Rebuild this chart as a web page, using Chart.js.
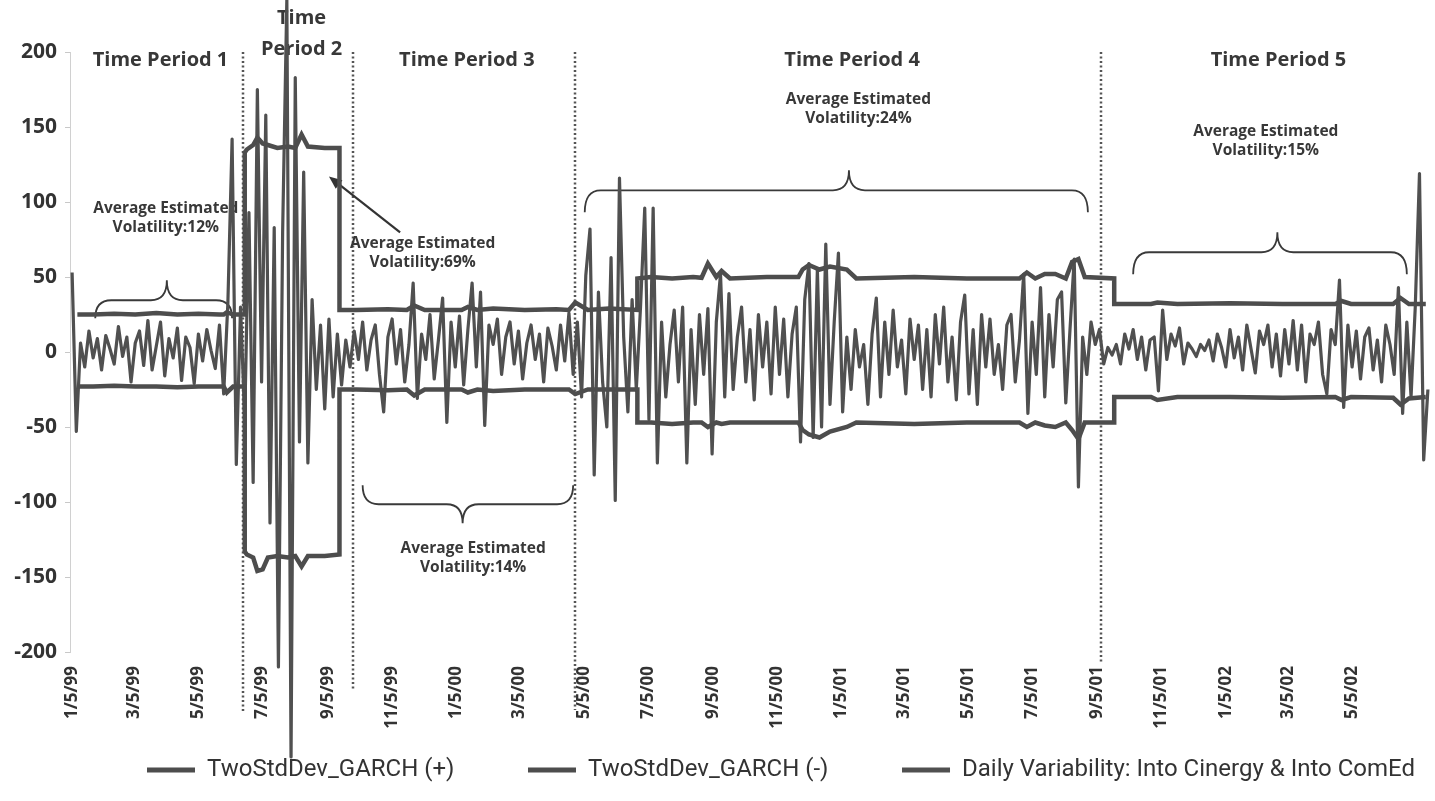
<!DOCTYPE html>
<html lang="en">
<head>
<meta charset="UTF-8">
<title>Daily variability and GARCH bands</title>
<script src="https://cdn.jsdelivr.net/npm/chart.js"></script>
<style>
    body {
        margin: 0;
        background: #fff;
    }
    .chart-box {
        position: relative;
        width: 1435px;
        height: 801px;
    }
</style>
</head>
<body>
<div class="chart-box"><canvas id="volChart"></canvas></div>
<script>
    // x is counted in days from 1/5/99
    const tickDays = [0, 59, 120, 181, 243, 304, 365, 425, 486, 547, 609, 670, 731, 790, 851, 912, 974, 1035, 1096, 1155, 1216];
    const tickLabels = ['1/5/99', '3/5/99', '5/5/99', '7/5/99', '9/5/99', '11/5/99', '1/5/00', '3/5/00', '5/5/00', '7/5/00',
        '9/5/00', '11/5/00', '1/5/01', '3/5/01', '5/5/01', '7/5/01', '9/5/01', '11/5/01', '1/5/02', '3/5/02', '5/5/02'];

    // daily variability, one reading every 4 days
    const dailyStep = 4;
    const dailyValues = [
        // period 1
        53, -53, 6, -10, 14, -4, 9, -12, 11, 2,
        -8, 17, -3, 10, -20, 6, 14, -9, 21, -12,
        4, 20, -16, 9, -4, 16, -19, 10, 3, -21,
        12, -6, 15, 1, -11, 18, -28, 33, 142, -75,
        // period 2
        30, -45, 93, -87, 175, -20, 158, -114, 83, -210,
        80, 235, -270, 183, -60, 120, -74, 35, -25, 18,
        -38, 22, -30, 12, -22, 8,
        // period 3
        -10, 14, -5, 20, -12, 8, 18, -15, -40, 10,
        22, -8, 15, -20, 5, 46, -31, 12, -5, 25,
        -18, 8, 36, -47, 20, -10, 24, -22, 15, 46,
        -10, 40, -49, 18, 5, 22, -15, 10, 20, -8,
        14, -18, 6, 18, -5, 12, -20, 16, 4, -12,
        18, -6, 26, -15,
        // period 4
        20, -30, 51, 82, -82, 40, -20, -50, 63, -99,
        116, 10, -40, 35, -25, 30, 96, -45, 96, -74,
        20, -30, 5, 28, -20, 30, -74, 15, -35, 25,
        -15, 29, -68, 20, 52, -30, 39, -25, 10, 30,
        -20, 15, -32, 25, -10, 20, -28, 30, -15, 22,
        -30, 12, 30, -60, 35, 59, -57, 55, -50, 72,
        -35, 20, 66, -40, 10, -25, 15, -10, 5, -35,
        12, 36, -30, 20, -15, 28, -10, 8, -28, 22,
        -5, 18, -25, 15, -30, 25, -8, 30, -20, 10,
        -32, 20, 38, -28, 15, -35, 25, -10, 22, -15,
        5, -25, 18, 25, -20, 8, 52, -41, 20, -15,
        43, -30, 25, -10, 35, 40, -34, 15, 62, -90,
        10, -15, 20, 5, 15, -8, 3, -2,
        // period 5
        5, -8, 12, 2, 15, -5, 10, -12, 8, 10,
        -26, 28, -5, 12, 4, 16, -8, 6, 2, -3,
        5, 1, 8, -6, 12, 3, -10, 15, -4, 10,
        -12, 18, 2, -14, 14, 5, 18, -10, 12, -16,
        15, -8, 21, -12, 18, -20, 12, 5, 20, -15,
        -28, 15, 5, 48, -37, 18, -10, 14, -18, 10,
        16, -12, 8, -20, 18, 5, -15, 43, -41, 20,
        -30, 30, 119, -72, -25
    ];

    // two standard deviation GARCH bands
    const garchDays = [5, 20, 40, 60, 80, 100, 120, 140, 144, 147,
        153, 164, 164, 166, 172, 176, 181, 186, 195, 205,
        212, 218, 224, 240, 254, 254, 270, 300, 318, 325,
        335, 370, 376, 385, 400, 430, 460, 472, 478, 490,
        510, 537, 537, 550, 570, 590, 598, 604, 612, 617,
        625, 660, 690, 694, 700, 710, 720, 736, 745, 800,
        850, 900, 907, 915, 924, 934, 944, 950, 956, 962,
        990, 990, 1010, 1025, 1031, 1050, 1100, 1150, 1200, 1206,
        1215, 1255, 1262, 1270, 1286];
    const garchPlus = [25, 25, 25.5, 25, 26, 25, 25.5, 25, 25, 26.5,
        25, 25, 133, 135, 138, 143, 139, 138, 136, 137,
        136, 145, 137, 136, 136, 28, 28, 28.5, 28, 31,
        28, 28, 30, 28, 29, 28, 28.5, 28, 33, 28,
        29, 28, 49, 50, 49, 50, 49.5, 59, 50, 54,
        49, 50, 50, 55, 58, 55, 57, 55, 49, 50,
        49, 49, 53, 49, 52, 52, 49, 60, 62, 50,
        49, 32, 32, 32, 33, 32, 32.5, 32, 32, 34,
        32, 32, 36, 32, 32];
    const garchMinus = [-23, -23, -22.5, -23, -23, -23.5, -23, -23, -23, -27,
        -23, -23, -133, -135, -137, -146, -145, -137, -136, -137,
        -136, -143, -136, -136, -135, -25, -25, -25.5, -25, -29,
        -25, -25, -27, -25, -26, -25, -25, -25, -28, -25,
        -25, -25, -47, -47, -48, -47, -47, -50, -47, -48,
        -47, -47, -47, -52, -55, -57, -53, -50, -47, -48,
        -47, -47, -50, -47, -49, -50, -47, -52, -58, -47,
        -47, -30, -30, -30, -32, -30, -30, -30.5, -30, -32,
        -30, -30.5, -35, -31, -30];

    const seriesNames = ['TwoStdDev_GARCH (+)', 'TwoStdDev_GARCH (-)', 'Daily Variability: Into Cinergy & Into ComEd'];

    // notes written on the chart
    const periodEdges = [162, 267, 478, 977];
    const periodTitles = [['Time Period 1'], ['Time', 'Period 2'], ['Time Period 3'], ['Time Period 4'], ['Time Period 5']];
    const volatilityNotes = [
        ['Average Estimated', 'Volatility:12%'],
        ['Average Estimated', 'Volatility:69%'],
        ['Average Estimated', 'Volatility:14%'],
        ['Average Estimated', 'Volatility:24%'],
        ['Average Estimated', 'Volatility:15%']
    ];

    // where the notes sit, in axis units [day, value]
    const edgeDrop = [60, 38, 58, 12];
    const titleSpots = [[84, 194.5], [218, 222.8], [375, 194.5], [741, 194.5], [1146, 194.5]];
    const noteSpots = [[89, 95.5], [333, 72], [381, -131.2], [747, 168], [1134, 146.8]];
    const braceSpots = [
        {from: 22, to: 152, mid: 90, base: 34.5, tip: 47.8, end: 22.5},
        {from: 276, to: 476, mid: 371, base: -101.5, tip: -114.2, end: -88.9},
        {from: 487, to: 965, mid: 738, base: 107.8, tip: 121.1, end: 93.1},
        {from: 1008, to: 1268, mid: 1145, base: 66.5, tip: 79.8, end: 51.8}
    ];
    const arrowSpot = {from: [311.6, 79.8], to: [244, 117]};

    const ink = '#383838';
    const lineGray = '#4d4d4d';

    function drawBrace(ctx, x0, x1, xm, yBase, yTip, yEnd) {
        const r = 16;
        ctx.beginPath();
        ctx.moveTo(x0, yEnd);
        ctx.quadraticCurveTo(x0, yBase, x0 + r, yBase);
        ctx.lineTo(xm - r, yBase);
        ctx.quadraticCurveTo(xm, yBase, xm, yTip);
        ctx.quadraticCurveTo(xm, yBase, xm + r, yBase);
        ctx.lineTo(x1 - r, yBase);
        ctx.quadraticCurveTo(x1, yBase, x1, yEnd);
        ctx.stroke();
    }

    function drawLines(ctx, lines, cx, cy, gap) {
        lines.forEach((t, i) => ctx.fillText(t, cx, cy + i * gap));
    }

    const annotate = {
        id: 'annotate',
        beforeDatasetsDraw(chart) {
            const {ctx, chartArea, scales: {x, y}} = chart;
            ctx.save();

            // dotted period separators
            ctx.strokeStyle = '#555';
            ctx.lineWidth = 2.5;
            ctx.setLineDash([2, 2.5]);
            periodEdges.forEach((d, i) => {
                const px = Math.round(x.getPixelForValue(d));
                ctx.beginPath();
                ctx.moveTo(px, chartArea.top);
                ctx.lineTo(px, chartArea.bottom + edgeDrop[i]);
                ctx.stroke();
            });
            ctx.setLineDash([]);

            // braces
            ctx.strokeStyle = '#3a3a3a';
            ctx.lineWidth = 1.8;
            braceSpots.forEach(b => {
                drawBrace(ctx, x.getPixelForValue(b.from), x.getPixelForValue(b.to), x.getPixelForValue(b.mid),
                    y.getPixelForValue(b.base), y.getPixelForValue(b.tip), y.getPixelForValue(b.end));
            });

            // arrow to the period 2 band
            const ax0 = x.getPixelForValue(arrowSpot.from[0]), ay0 = y.getPixelForValue(arrowSpot.from[1]);
            const ax1 = x.getPixelForValue(arrowSpot.to[0]), ay1 = y.getPixelForValue(arrowSpot.to[1]);
            const ang = Math.atan2(ay1 - ay0, ax1 - ax0);
            ctx.strokeStyle = '#333';
            ctx.fillStyle = '#333';
            ctx.lineWidth = 2.2;
            ctx.beginPath();
            ctx.moveTo(ax0, ay0);
            ctx.lineTo(ax1 - 8 * Math.cos(ang), ay1 - 8 * Math.sin(ang));
            ctx.stroke();
            ctx.beginPath();
            ctx.moveTo(ax1, ay1);
            ctx.lineTo(ax1 - 14 * Math.cos(ang - 0.4), ay1 - 14 * Math.sin(ang - 0.4));
            ctx.lineTo(ax1 - 14 * Math.cos(ang + 0.4), ay1 - 14 * Math.sin(ang + 0.4));
            ctx.closePath();
            ctx.fill();

            // texts
            ctx.fillStyle = ink;
            ctx.textAlign = 'center';
            ctx.textBaseline = 'middle';
            ctx.font = 'bold 20px "Open Sans"';
            periodTitles.forEach((lines, i) => {
                drawLines(ctx, lines, x.getPixelForValue(titleSpots[i][0]), y.getPixelForValue(titleSpots[i][1]), 31);
            });
            ctx.font = 'bold 15.5px "Open Sans"';
            volatilityNotes.forEach((lines, i) => {
                drawLines(ctx, lines, x.getPixelForValue(noteSpots[i][0]), y.getPixelForValue(noteSpots[i][1]), 19);
            });
            ctx.restore();
        }
    };

    // legend row starts where the original one does
    const legendNudge = {
        id: 'legendNudge',
        afterLayout(chart) {
            chart.legend.left = 147 - chart.options.plugins.legend.labels.padding;
        }
    };

    const dailyPoints = dailyValues.map((v, i) => ({x: i * dailyStep, y: v}));
    const upperPoints = garchDays.map((d, i) => ({x: d, y: garchPlus[i]}));
    const lowerPoints = garchDays.map((d, i) => ({x: d, y: garchMinus[i]}));

    new Chart(document.getElementById('volChart'), {
        type: 'line',
        data: {
            datasets: [{
                label: seriesNames[0],
                data: upperPoints,
                borderColor: lineGray,
                backgroundColor: lineGray,
                borderWidth: 4.5,
                pointRadius: 0,
                tension: 0
            }, {
                label: seriesNames[1],
                data: lowerPoints,
                borderColor: lineGray,
                backgroundColor: lineGray,
                borderWidth: 4.5,
                pointRadius: 0,
                tension: 0
            }, {
                label: seriesNames[2],
                data: dailyPoints,
                borderColor: '#505050',
                backgroundColor: '#505050',
                borderWidth: 3.2,
                borderJoinStyle: 'round',
                pointRadius: 0,
                tension: 0,
                clip: false
            }]
        },
        options: {
            responsive: true,
            maintainAspectRatio: false,
            animation: false,
            events: [],
            layout: {
                padding: {top: 52, right: 5, bottom: 9, left: 0}
            },
            scales: {
                x: {
                    type: 'linear',
                    min: -2,
                    max: 1290,
                    afterBuildTicks: axis => {
                        axis.ticks = tickDays.map(v => ({value: v}));
                    },
                    afterFit: scale => {
                        scale.height = 92;
                    },
                    grid: {display: false, drawTicks: false},
                    border: {display: false},
                    ticks: {
                        autoSkip: false,
                        minRotation: 90,
                        maxRotation: 90,
                        padding: 14,
                        color: '#333',
                        font: {family: 'Open Sans', size: 17, weight: 'bold'},
                        callback: (value, index) => tickLabels[index]
                    }
                },
                y: {
                    min: -200,
                    max: 200,
                    afterFit: scale => {
                        scale.width = 70;
                    },
                    grid: {drawOnChartArea: false, drawTicks: true, tickLength: 5, color: '#c8c8c8'},
                    border: {display: true, color: '#d0d0d0', width: 1},
                    ticks: {
                        stepSize: 50,
                        padding: 8,
                        color: '#333',
                        font: {family: 'Open Sans', size: 21, weight: 'bold'}
                    }
                }
            },
            plugins: {
                tooltip: {enabled: false},
                legend: {
                    position: 'bottom',
                    align: 'start',
                    labels: {
                        boxWidth: 48,
                        boxHeight: 5,
                        padding: 14,
                        color: '#333',
                        font: {family: 'Roboto', size: 24},
                        generateLabels: chart => {
                            const items = Chart.defaults.plugins.legend.labels.generateLabels(chart);
                            items.forEach((it, i) => {
                                it.lineWidth = 0;
                                if (i < items.length - 1) it.text += '          ';
                            });
                            return items;
                        }
                    }
                }
            }
        },
        plugins: [annotate, legendNudge]
    });
</script>
</body>
</html>
